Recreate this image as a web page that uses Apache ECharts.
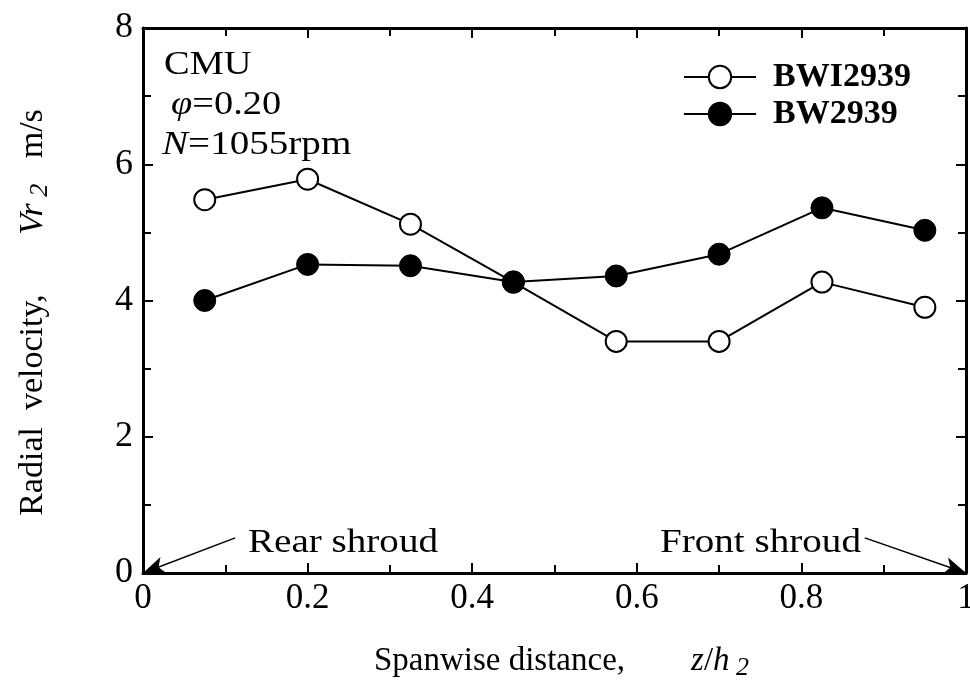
<!DOCTYPE html>
<html><head><meta charset="utf-8">
<script src="https://cdn.jsdelivr.net/npm/echarts@6/dist/echarts.min.js"></script>
<style>html,body{margin:0;padding:0;background:#fff}#c{width:970px;height:681px}</style>
</head><body><div id="c"></div>
<script>
const xValues = [0.075, 0.2, 0.325, 0.45, 0.575, 0.7, 0.825, 0.95];
const bwi2939 = [5.48, 5.78, 5.12, 4.27, 3.40, 3.40, 4.27, 3.90];
const bw2939  = [4.00, 4.53, 4.51, 4.27, 4.36, 4.68, 5.36, 5.03];
const seriesNames = ['BWI2939', 'BW2939'];
const xTickLabels = {0: '0', 0.2: '0.2', 0.4: '0.4', 0.6: '0.6', 0.8: '0.8', 1: '1'};
const rearArrow = [[0.112, 0.515], [0, 0]];
const frontArrow = [[0.877, 0.515], [1, 0]];

const FONT = '"Liberation Serif", "Times New Roman", serif';
const chart = echarts.init(document.getElementById('c'));
const pair = (xs, ys) => xs.map((x, i) => [x, ys[i]]);

const axisLine = {show: true, onZero: false, lineStyle: {color: '#000', width: 3}};
const tick = {show: true, inside: true, length: 10, lineStyle: {color: '#000', width: 2}};
const minor = {show: true, splitNumber: 2, length: 8, lineStyle: {color: '#000', width: 2}};
const baseX = {type: 'value', min: 0, max: 1, interval: 0.2, axisLine, splitLine: {show: false}, axisTick: tick, minorTick: minor};
const baseY = {type: 'value', min: 0, max: 8, interval: 2, axisLine, splitLine: {show: false}, axisTick: tick, minorTick: minor};

chart.setOption({
  backgroundColor: '#fff',
  animation: false,
  grid: {left: 143, right: 4, top: 28, bottom: 108, outerBoundsMode: 'none', containLabel: false},
  xAxis: [
    Object.assign({}, baseX, {
      position: 'bottom',
      axisLabel: {color: '#000', fontFamily: FONT, fontSize: 35, margin: 8,
        formatter: v => xTickLabels[Math.round(v * 10) / 10] ?? ''},
      name: '{n|Spanwise distance,        }{i|z}{n|/}{i|h}{s| 2}',
      nameLocation: 'middle', nameGap: 68,
      nameTextStyle: {padding: [0, 0, 0, 14], rich: {
        n: {fontFamily: FONT, fontSize: 33, color: '#000'},
        i: {fontFamily: FONT, fontSize: 33, color: '#000', fontStyle: 'italic'},
        s: {fontFamily: FONT, fontSize: 26, color: '#000', fontStyle: 'italic', padding: [14, 0, 0, 0]}
      }}
    }),
    Object.assign({}, baseX, {position: 'top', axisLabel: {show: false}})
  ],
  yAxis: [
    Object.assign({}, baseY, {
      position: 'left',
      axisLabel: {color: '#000', fontFamily: FONT, fontSize: 36, margin: 10},
      name: '{n|Radial  velocity,       }{i|Vr}{s| 2}{n|   m/s}',
      nameLocation: 'middle', nameGap: 90, nameRotate: 90,
      nameTextStyle: {padding: [0, 24, 0, 0], rich: {
        n: {fontFamily: FONT, fontSize: 34, color: '#000'},
        i: {fontFamily: FONT, fontSize: 34, color: '#000', fontStyle: 'italic'},
        s: {fontFamily: FONT, fontSize: 26, color: '#000', fontStyle: 'italic', padding: [14, 0, 0, 0]}
      }}
    }),
    Object.assign({}, baseY, {position: 'right', axisLabel: {show: false}})
  ],
  legend: {
    top: 55, left: 678, orient: 'vertical', itemGap: 3,
    itemWidth: 72, itemHeight: 28,
    textStyle: {fontFamily: FONT, fontSize: 34, fontWeight: 'bold', color: '#000', padding: [0, 0, 0, 12]},
    data: seriesNames
  },
  series: [
    {
      name: seriesNames[0], type: 'line', data: pair(xValues, bwi2939),
      symbol: 'circle', symbolSize: 21,
      lineStyle: {color: '#000', width: 2},
      itemStyle: {color: '#fff', borderColor: '#000', borderWidth: 2},
      z: 3,
      markLine: {
        silent: true, symbol: ['none', 'arrow'], symbolSize: [13, 22],
        lineStyle: {color: '#000', width: 1.5, type: 'solid'},
        label: {show: false},
        data: [
          [{coord: rearArrow[0]}, {coord: rearArrow[1]}],
          [{coord: frontArrow[0]}, {coord: frontArrow[1]}]
        ]
      }
    },
    {
      name: seriesNames[1], type: 'line', data: pair(xValues, bw2939),
      symbol: 'circle', symbolSize: 22,
      lineStyle: {color: '#000', width: 2},
      itemStyle: {color: '#000', borderColor: '#000', borderWidth: 1},
      z: 4
    }
  ],
  graphic: [
    {type: 'text', x: 164, y: 48, scaleX: 1.13, style: {text: 'CMU', font: '34px ' + FONT, fill: '#000'}},
    {type: 'text', x: 171, y: 88, scaleX: 1.13, style: {
      text: '{i|φ}{n|=0.20}', fill: '#000',
      rich: {i: {font: 'italic 34px ' + FONT}, n: {font: '34px ' + FONT}}}},
    {type: 'text', x: 162, y: 128, scaleX: 1.15, style: {
      text: '{i|N}{n|=1055rpm}', fill: '#000',
      rich: {i: {font: 'italic 34px ' + FONT}, n: {font: '34px ' + FONT}}}},
    {type: 'text', x: 248, y: 526, scaleX: 1.15, style: {text: 'Rear shroud', font: '34px ' + FONT, fill: '#000'}},
    {type: 'text', x: 660, y: 526, scaleX: 1.15, style: {text: 'Front shroud', font: '34px ' + FONT, fill: '#000'}}
  ]
});
</script></body></html>
